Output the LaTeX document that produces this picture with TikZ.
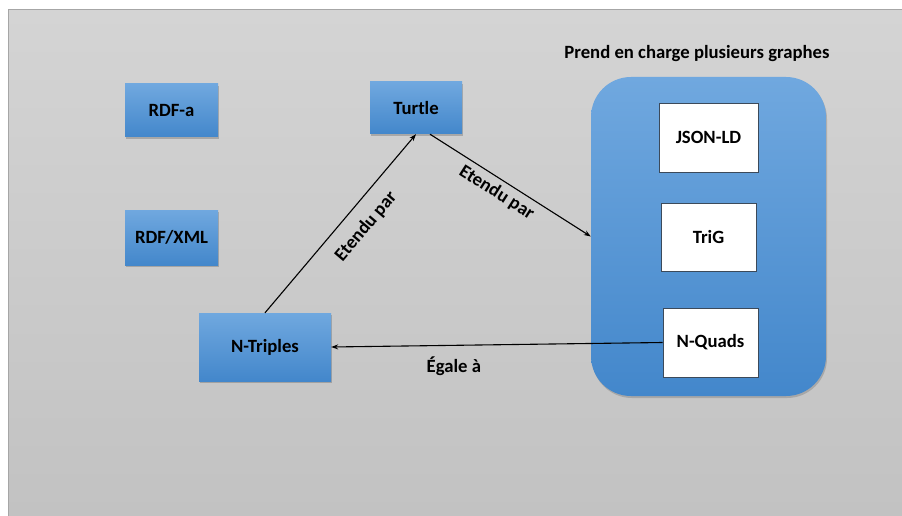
\documentclass[tikz,border=0pt]{standalone}
\usepackage{fontspec}
\setmainfont{Carlito}
\usetikzlibrary{shadows,arrows.meta}

\definecolor{bgtop}{HTML}{D4D4D4}
\definecolor{bgbot}{HTML}{C2C2C2}
\definecolor{frame}{HTML}{A6A6A6}
\definecolor{bluetop}{HTML}{70A8DF}
\definecolor{bluebot}{HTML}{4387CB}
\definecolor{whiteedge}{HTML}{3C4A5A}

\tikzset{
  bluebox/.style={rectangle, top color=bluetop, bottom color=bluebot, draw=none,
    drop shadow={shadow xshift=1pt, shadow yshift=-2pt, opacity=0.3, fill=black!70}},
  whitebox/.style={rectangle, fill=white, draw=whiteedge, line width=0.8pt},
  container/.style={rectangle, rounded corners=40pt, top color=bluetop, bottom color=bluebot,
    draw=none, drop shadow={shadow xshift=1pt, shadow yshift=-2pt, opacity=0.25, fill=black!70}},
  link/.style={-{Stealth[length=7pt,width=5pt]}, line width=1.1pt, black},
  linklabel/.style={inner sep=1pt}
}

\begin{document}
\begin{tikzpicture}[x=1pt, y=-1pt, font=\fontsize{18.7}{22}\selectfont\bfseries]
  \useasboundingbox (0,0) rectangle (902,516);
  % page and grey canvas
  \fill[white] (0,0) rectangle (902,516);
  \shade[top color=bgtop, bottom color=bgbot] (8.5,9.5) rectangle (902,516);
  \draw[frame, line width=1pt] (8.5,516) -- (8.5,9.5) -- (902,9.5);

  % left column formats
  \node[bluebox, minimum width=93pt, minimum height=53pt] (rdfa) at (171.5,110.5) {RDF-a};
  \node[bluebox, minimum width=93pt, minimum height=55pt] (rdfxml) at (171.5,237.5) {RDF/XML};
  \node[bluebox, minimum width=92pt, minimum height=52pt] (turtle) at (416,108) {Turtle};
  \node[bluebox, minimum width=132pt, minimum height=68pt] (ntriples) at (265,347) {N-Triples};

  % multi-graph group
  \node[container, minimum width=235pt, minimum height=319pt] (group) at (708.5,236.5) {};
  \node (title) at (697,54) {Prend en charge plusieurs graphes};
  \node[whitebox, minimum width=99pt, minimum height=69pt] (jsonld) at (708.5,137.5) {JSON-LD};
  \node[whitebox, minimum width=95pt, minimum height=68pt] (trig) at (708.5,237) {TriG};
  \node[whitebox, minimum width=95pt, minimum height=69pt] (nquads) at (710.5,342.5) {N-Quads};

  % relations
  \draw[link] (ntriples.north) -- (turtle.south)
    node[linklabel, pos=0.56, sloped, below=12pt] {Etendu par};
  \draw[link] ([xshift=14pt]turtle.south) -- (group.west)
    node[linklabel, pos=0.46, sloped, below=4pt] {Etendu par};
  \draw[link] (nquads.west) -- (ntriples.east)
    node[linklabel, pos=0.63, below=10pt] {Égale à};
\end{tikzpicture}
\end{document}
